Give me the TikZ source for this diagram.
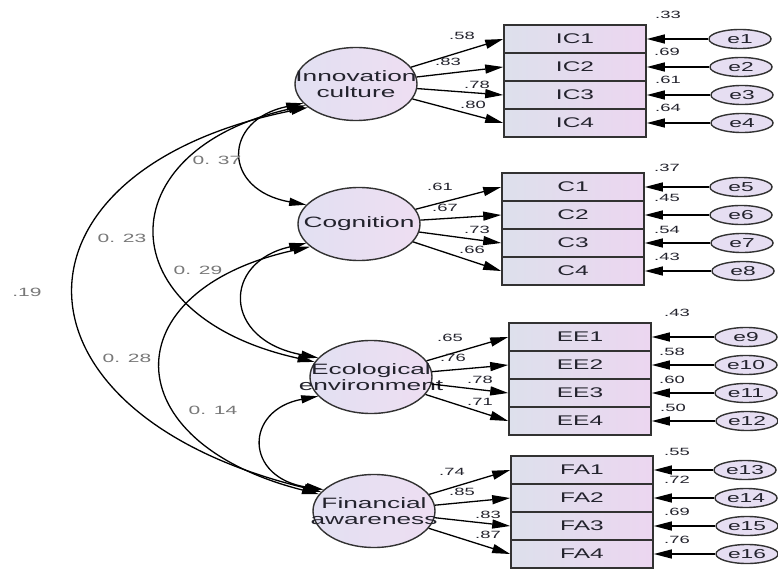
\documentclass[tikz,border=0pt]{standalone}
\usepackage{fontspec}
\setmainfont{Liberation Sans}
\usepackage{graphicx}
\usetikzlibrary{arrows.meta,shapes.geometric}
\definecolor{boxL}{RGB}{221,224,236}
\definecolor{boxR}{RGB}{236,214,240}
\definecolor{latL}{RGB}{226,224,242}
\definecolor{latR}{RGB}{238,222,242}
\definecolor{errF}{RGB}{230,222,242}
\definecolor{edgec}{RGB}{50,50,50}
\definecolor{txt}{RGB}{35,35,45}
\definecolor{covtxt}{RGB}{120,120,120}
\newcommand\wx[1]{\scalebox{1.75}[1]{#1}}
\begin{document}
\begin{tikzpicture}[x=1pt,y=-1pt,
  latent/.style={ellipse,draw=edgec,line width=1.4pt,minimum width=122pt,minimum height=73pt,inner sep=0pt,left color=latL,right color=latR},
  lattext/.style={font=\fontsize{15}{16}\selectfont,text=txt,align=center,inner sep=0pt},
  obs/.style={rectangle,draw=edgec,line width=1.6pt,minimum width=142pt,minimum height=28pt,inner sep=0pt,left color=boxL,right color=boxR,font=\fontsize{14}{15}\selectfont,text=txt},
  err/.style={ellipse,draw=edgec,line width=1.4pt,minimum width=62pt,minimum height=19pt,inner sep=0pt,fill=errF,font=\fontsize{13}{13}\selectfont,text=txt},
  lab/.style={font=\fontsize{10.5}{11}\selectfont,text=txt,inner sep=0pt},
  cov/.style={font=\fontsize{12}{12}\selectfont,text=covtxt,inner sep=0pt},
  arr/.style={line width=1.3pt,draw=black,-{Triangle[length=18pt,width=9pt]}},
  darr/.style={line width=1.3pt,draw=black,{Triangle[length=17pt,width=8pt]}-{Triangle[length=17pt,width=8pt]}},
]
\useasboundingbox[fill=white] (0,0) rectangle (778,569);

% latent variables
\node[latent] (IC) at (356,84) {};
\node[lattext] (ICt) at (IC) {\wx{Innovation}\\\wx{culture}};
\node[latent] (Cog) at (359,224) {};
\node[lattext] (Cogt) at (Cog) {\wx{Cognition}};
\node[latent] (EE) at (371,377) {};
\node[lattext] (EEt) at (EE) {\wx{Ecological}\\\wx{environment}};
\node[latent] (FA) at (374,511) {};
\node[lattext] (FAt) at (FA) {\wx{Financial}\\\wx{awareness}};

% observed variables
\node[obs] (IC1) at (575,39) {\wx{IC1}};
\node[obs] (IC2) at (575,67) {\wx{IC2}};
\node[obs] (IC3) at (575,95) {\wx{IC3}};
\node[obs] (IC4) at (575,123) {\wx{IC4}};
\node[obs] (C1) at (573,187) {\wx{C1}};
\node[obs] (C2) at (573,215) {\wx{C2}};
\node[obs] (C3) at (573,243) {\wx{C3}};
\node[obs] (C4) at (573,271) {\wx{C4}};
\node[obs] (EE1) at (580,337) {\wx{EE1}};
\node[obs] (EE2) at (580,365) {\wx{EE2}};
\node[obs] (EE3) at (580,393) {\wx{EE3}};
\node[obs] (EE4) at (580,421) {\wx{EE4}};
\node[obs] (FA1) at (582,470) {\wx{FA1}};
\node[obs] (FA2) at (582,498) {\wx{FA2}};
\node[obs] (FA3) at (582,526) {\wx{FA3}};
\node[obs] (FA4) at (582,554) {\wx{FA4}};

% errors
\node[err] (e1) at (740,39) {\wx{e1}};
\node[err] (e2) at (741,67) {\wx{e2}};
\node[err] (e3) at (742,95) {\wx{e3}};
\node[err] (e4) at (742,123) {\wx{e4}};
\node[err] (e5) at (741,187) {\wx{e5}};
\node[err] (e6) at (741,215) {\wx{e6}};
\node[err] (e7) at (742,243) {\wx{e7}};
\node[err] (e8) at (743,271) {\wx{e8}};
\node[err] (e9) at (746,337) {\wx{e9}};
\node[err] (e10) at (746,365) {\wx{e10}};
\node[err] (e11) at (746,393) {\wx{e11}};
\node[err] (e12) at (747,421) {\wx{e12}};
\node[err] (e13) at (745,470) {\wx{e13}};
\node[err] (e14) at (746,498) {\wx{e14}};
\node[err] (e15) at (747,526) {\wx{e15}};
\node[err] (e16) at (747,554) {\wx{e16}};

% loadings
\foreach \l/\o in {IC/IC1,IC/IC2,IC/IC3,IC/IC4,Cog/C1,Cog/C2,Cog/C3,Cog/C4,EE/EE1,EE/EE2,EE/EE3,EE/EE4,FA/FA1,FA/FA2,FA/FA3,FA/FA4}
  \draw[arr] (\l) -- (\o.west);
% error arrows
\foreach \e/\o in {e1/IC1,e2/IC2,e3/IC3,e4/IC4,e5/C1,e6/C2,e7/C3,e8/C4,e9/EE1,e10/EE2,e11/EE3,e12/EE4,e13/FA1,e14/FA2,e15/FA3,e16/FA4}
  \draw[arr] (\e) -- (\o.east);

% covariances
\draw[darr] (IC.200) .. controls (222,120) and (222,190) .. (Cog.160);
\draw[darr] (IC.203) .. controls (106,150) and (106,316) .. (EE.165);
\draw[darr] (IC.206) .. controls (-4,170) and (-4,413) .. (FA.160);
\draw[darr] (Cog.200) .. controls (222,262) and (222,340) .. (EE.160);
\draw[darr] (Cog.205) .. controls (112,290) and (112,442) .. (FA.163);
\draw[darr] (EE.200) .. controls (244,410) and (244,478) .. (FA.157);

% loading labels
\node[lab] (l1) at (462,36) {\wx{.58}};
\node[lab] (l2) at (448,62) {\wx{.83}};
\node[lab] (l3) at (477,85) {\wx{.78}};
\node[lab] (l4) at (473,105) {\wx{.80}};
\node[lab] (l5) at (440,187) {\wx{.61}};
\node[lab] (l6) at (445,208) {\wx{.67}};
\node[lab] (l7) at (477,230) {\wx{.73}};
\node[lab] (l8) at (472,250) {\wx{.66}};
\node[lab] (l9) at (450,338) {\wx{.65}};
\node[lab] (l10) at (453,358) {\wx{.76}};
\node[lab] (l11) at (480,380) {\wx{.78}};
\node[lab] (l12) at (480,402) {\wx{.71}};
\node[lab] (l13) at (452,472) {\wx{.74}};
\node[lab] (l14) at (462,492) {\wx{.85}};
\node[lab] (l15) at (488,515) {\wx{.83}};
\node[lab] (l16) at (488,535) {\wx{.87}};

% squared multiple correlations
\node[lab] (r1) at (668,15) {\wx{.33}};
\node[lab] (r2) at (667,52) {\wx{.69}};
\node[lab] (r3) at (668,80) {\wx{.61}};
\node[lab] (r4) at (668,108) {\wx{.64}};
\node[lab] (r5) at (667,168) {\wx{.37}};
\node[lab] (r6) at (667,198) {\wx{.45}};
\node[lab] (r7) at (667,230) {\wx{.54}};
\node[lab] (r8) at (667,257) {\wx{.43}};
\node[lab] (r9) at (677,313) {\wx{.43}};
\node[lab] (r10) at (672,352) {\wx{.58}};
\node[lab] (r11) at (672,380) {\wx{.60}};
\node[lab] (r12) at (673,408) {\wx{.50}};
\node[lab] (r13) at (677,452) {\wx{.55}};
\node[lab] (r14) at (677,480) {\wx{.72}};
\node[lab] (r15) at (677,512) {\wx{.69}};
\node[lab] (r16) at (677,540) {\wx{.76}};

% covariance labels
\node[cov] (c1) at (217,160) {\wx{0. 37}};
\node[cov] (c2) at (122,238) {\wx{0. 23}};
\node[cov] (c3) at (198,270) {\wx{0. 29}};
\node[cov] (c4) at (27,292) {\wx{.19}};
\node[cov] (c5) at (127,358) {\wx{0. 28}};
\node[cov] (c6) at (213,410) {\wx{0. 14}};
\end{tikzpicture}
\end{document}
